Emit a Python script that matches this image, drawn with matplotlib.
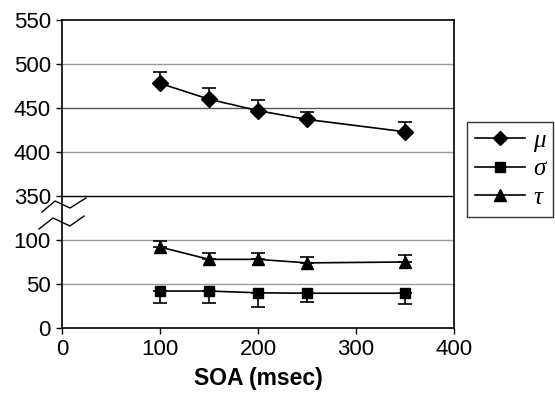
import numpy as np
import matplotlib
matplotlib.use("Agg")
import matplotlib.pyplot as plt
from matplotlib.lines import Line2D

plt.rcParams['font.family'] = ['Liberation Sans', 'DejaVu Sans']

soa = [100, 150, 200, 250, 350]
mu = [478, 460, 447, 437, 423]
mu_err = [13, 13, 12, 8, 11]
sigma = [42, 42, 40, 39.5, 39.5]
sigma_err = [14, 14, 16, 10, 12.5]
tau = [92, 78, 78, 74, 75]
tau_err = [7, 7, 7, 7, 8]

yticks = [0, 50, 100, 350, 400, 450, 500, 550]
xticks = [0, 100, 200, 300, 400]

def fwd(v):
    v = np.asarray(v, dtype=float)
    return np.where(v <= 100, v, np.where(v >= 350, v - 200, 100 + (v - 100) * 50.0 / 250.0))

def inv(u):
    u = np.asarray(u, dtype=float)
    return np.where(u <= 100, u, np.where(u >= 150, u + 200, 100 + (u - 100) * 250.0 / 50.0))

fig = plt.figure(figsize=(5.55, 3.95), dpi=100)
ax = fig.add_axes([62/555, 1-328/395, 392/555, 308/395])
ax.set_yscale('function', functions=(fwd, inv))
ax.set_xlim(0, 400)
ax.set_ylim(0, 550)
ax.set_yticks(yticks)
ax.set_yticklabels([str(t) for t in yticks])
ax.set_xticks(xticks)
ax.yaxis.set_minor_locator(matplotlib.ticker.NullLocator())

for t in yticks[1:-1]:
    col = 'black' if t == 350 else ('#555555' if t == 450 else '#999999')
    ax.axhline(t, color=col, lw=1.0, zorder=1)

ax.tick_params(axis='both', direction='out', length=4, width=1, labelsize=16, pad=4)
for s in ax.spines.values():
    s.set_linewidth(1.2)

ekw = dict(color='black', lw=1.2, capsize=5, capthick=1.2, elinewidth=1.2, zorder=3)
ax.errorbar(soa, mu, yerr=[[0]*5, mu_err], marker='D', ms=8, **ekw)
ax.errorbar(soa, sigma, yerr=[sigma_err, [0]*5], marker='s', ms=7.5, **ekw)
ax.errorbar(soa, tau, yerr=[[0]*5, tau_err], marker='^', ms=9, **ekw)

ax.set_xlabel('SOA (msec)', fontsize=16.5, fontweight='bold', labelpad=5)

# axis break symbol (figure pixel coordinates)
def fx(px): return px / 555
def fy(py): return 1 - py / 395
zz1 = [(42, 212), (55, 201), (70, 208), (86, 198)]
zz2 = [(39, 229), (53, 218), (70, 226), (84, 216)]
for zz in (zz1, zz2):
    fig.add_artist(Line2D([fx(a) for a, b in zz], [fy(b) for a, b in zz],
                          transform=fig.transFigure, color='black', lw=1.0, zorder=6))

handles = [Line2D([], [], color='black', lw=1.2, marker=m, ms=s) for m, s in (('D', 7), ('s', 7), ('^', 8))]
leg = fig.legend(handles, ['μ', 'σ', 'τ'], loc='center left', bbox_to_anchor=(467/555, 1-169/395),
                 frameon=True, fancybox=False, edgecolor='black', handlelength=2.0,
                 prop={'family': 'Liberation Serif', 'style': 'italic', 'size': 18},
                 borderpad=0.3, labelspacing=0.25, handletextpad=0.35, borderaxespad=0)
leg.get_frame().set_linewidth(1.0)

fig.savefig('out.png', dpi=100)
